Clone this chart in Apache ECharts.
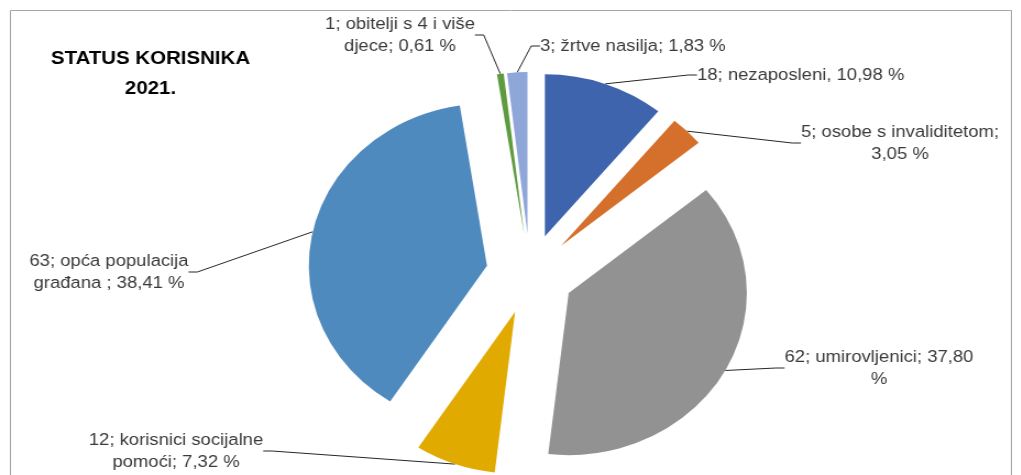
<!DOCTYPE html>
<html>
<head>
<meta charset="utf-8">
<script src="https://cdn.jsdelivr.net/npm/echarts@6/dist/echarts.min.js"></script>
<style>
  html, body { margin: 0; padding: 0; background: #fff; overflow: hidden; }
  /* slika iz excela je malo razvucena po sirini */
  #main { width: 928px; height: 475px; transform: scaleX(1.1); transform-origin: 0 0; }
</style>
</head>
<body>
<div id="main"></div>
<script>
// podaci - status korisnika 2021.
const categories = ['nezaposleni', 'osobe s invaliditetom', 'umirovljenici',
  'korisnici socijalne\npomoći', 'opća populacija\ngrađana ', 'obitelji s 4 i više\ndjece', 'žrtve nasilja'];
const values = [18, 5, 62, 12, 63, 1, 3];
const colors = ['#3D64AC', '#D4702B', '#929292', '#E1AA00', '#4E8ABE', '#5E9B3F', '#8FA6D8'];

// format labela kao u excelu ({v} vrijednost, {n} naziv, {p} postotak)
const labelPatterns = ['{v}; {n}, {p} %', '{v}; {n};\n{p} %', '{v}; {n}; {p}\n%',
  '{v}; {n}; {p} %', '{v}; {n}; {p} %', '{v}; {n}; {p} %', '{v}; {n}; {p} %'];
// polozaj labela [x, y, poravnanje] u pikselima slike
const labelPos = [[697, 75, 'left'], [900, 143, 'center'], [879, 368, 'center'],
  [176, 451, 'center'], [109, 272, 'center'], [400, 35, 'center'], [540, 46, 'left']];

const K = 1.1;        // razvlacenje po x
const R = 162;        // radijus kruga
const EXPLODE = 40;   // odmak kriski
const CENTER = [530 / K, 274];

const chart = echarts.init(document.getElementById('main'));

const pieData = categories.map(function (n, i) {
  return { name: n, value: values[i] };
});

const option = {
  animation: false,
  graphic: [{
    type: 'rect',
    shape: { x: 9.5, y: 10.5, width: 910, height: 520 },
    style: { fill: 'none', stroke: '#a6a6a6', lineWidth: 1 },
    silent: true
  }],
  title: {
    text: 'STATUS KORISNIKA\n2021.',
    left: 145 / K,
    top: 39,
    textAlign: 'center',
    textStyle: {
      fontFamily: 'Liberation Sans',
      fontSize: 18.6,
      fontWeight: 'bold',
      color: '#000',
      lineHeight: 30
    }
  },
  series: [{
    // kriske, sve izvucene
    type: 'pie',
    center: CENTER,
    radius: R,
    startAngle: 90,
    clockwise: true,
    selectedMode: 'multiple',
    selectedOffset: EXPLODE,
    emphasis: { disabled: true },
    label: { show: false },
    labelLine: { show: false },
    data: pieData.map(function (d, i) {
      return { name: d.name, value: d.value, selected: true, itemStyle: { color: colors[i] } };
    })
  }, {
    // nevidljivi krug za labele i linije (rub izvucenih kriski)
    type: 'pie',
    center: CENTER,
    radius: R + EXPLODE,
    startAngle: 90,
    clockwise: true,
    silent: true,
    avoidLabelOverlap: false,
    itemStyle: { color: 'rgba(0,0,0,0)' },
    emphasis: { disabled: true },
    data: pieData,
    label: {
      show: true,
      fontFamily: 'Liberation Sans',
      fontSize: 16.8,
      lineHeight: 22,
      color: '#3a3a3a',
      align: 'center',
      formatter: function (p) {
        return labelPatterns[p.dataIndex]
          .replace('{v}', p.value)
          .replace('{n}', p.name)
          .replace('{p}', p.percent.toFixed(2).replace('.', ','));
      }
    },
    labelLine: {
      show: true,
      length: 8,
      length2: 8,
      lineStyle: { color: '#262626', width: 1 }
    },
    labelLayout: function (params) {
      const p = labelPos[params.dataIndex];
      return { x: p[0] / K, y: p[1], align: p[2], verticalAlign: 'middle' };
    }
  }]
};

chart.setOption(option);
</script>
</body>
</html>
